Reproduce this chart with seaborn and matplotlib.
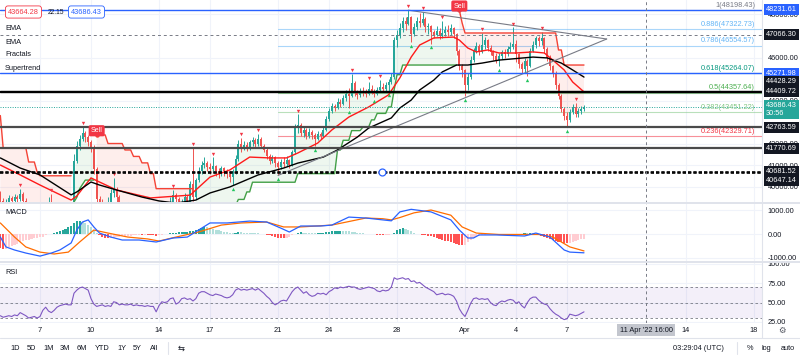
import numpy as np
import pandas as pd
import matplotlib
matplotlib.use("Agg")
import matplotlib.pyplot as plt
import matplotlib.dates as mdates
from matplotlib.lines import Line2D
from matplotlib.transforms import blended_transform_factory, offset_copy
import seaborn as sns

sns.set_theme(style="white")
plt.rcParams["font.family"] = ["Liberation Sans", "DejaVu Sans"]

# ---------------- data (4h candles, BTCUSD) ----------------
first_candle = "2022-03-04 16:00"
first_open = 39700
close = [
    39350, 39150,
    39300, 39450, 39350, 39500, 39400, 39650,
    39350, 39200, 39050, 38850, 38550, 38350,
    38150, 38500, 38900, 39200, 38500, 37700,
    38000, 38300, 38700, 38600, 38500, 38750,
    41200, 41900, 42200, 42500, 42300, 42050,
    41850, 40800, 39400, 39250, 39150, 38900,
    39300, 39700, 39900, 39500, 39100, 38900,
    39000, 39150, 38900, 39050, 38950, 38850,
    38900, 38800, 38650, 38400, 38200, 37800,
    38200, 38800, 38700, 39000, 39300, 39600,
    39400, 39050, 39200, 39500, 39300, 40100,
    39500, 40300, 40700, 41000, 41100, 40900,
    40800, 40950, 40700, 40600, 40850, 40700,
    40600, 40450, 40700, 41300, 42000, 41800,
    41950, 41800, 42050, 42150, 42000, 42200,
    41900, 41700, 41400, 41200, 41350, 41100,
    40900, 41150, 41050, 41250, 41000, 41600,
    42700, 42850, 42500, 42650, 42350, 42550,
    42400, 42200, 42450, 42350, 42650, 43150,
    43500, 43750, 43650, 43950, 43850, 44100,
    44300, 44200, 44800, 44400, 44250, 44450,
    44400, 44300, 44550, 44450, 44300, 44500,
    44650, 44550, 44700, 44850, 45100, 46800,
    47050, 47350, 47700, 47550, 47900, 47100,
    47400, 47700, 47600, 47800, 47400, 47450,
    47200, 47050, 47250, 47000, 47150, 47300,
    47200, 47350, 47100, 46300, 45600, 45400,
    44700, 45100, 45900, 46300, 46550, 46250,
    46600, 46800, 46450, 46250, 46050, 45900,
    46050, 46250, 46150, 46400, 46500, 46650,
    46150, 45700, 45450, 45850, 45600, 46300,
    46600, 46900, 46750, 46900, 46400, 46000,
    45600, 45300, 44700, 44200, 43600, 43300,
    43100, 43450, 43700, 43350, 43500, 43600,
    43686.43,
]
high = [
    39800, 39450,
    39400, 39600, 39550, 39650, 39600, 39900,
    39750, 39450, 39300, 39150, 38950, 38650,
    38500, 38700, 39150, 39500, 39650, 38600,
    38200, 38500, 38900, 39000, 38800, 39000,
    41500, 42100, 42400, 42770, 42600, 42400,
    42150, 41950, 40900, 39550, 39400, 39300,
    39500, 39900, 40400, 40000, 39600, 39300,
    39250, 39300, 39200, 39200, 39100, 39050,
    39100, 39000, 38900, 38750, 38500, 38300,
    38400, 39000, 39100, 39300, 39500, 39850,
    39700, 39500, 39400, 39700, 39600, 40250,
    41800, 40400, 40900, 41200, 41350, 41200,
    41100, 41350, 41000, 40850, 40950, 40900,
    40800, 40700, 40800, 41450, 42150, 42250,
    42100, 42050, 42150, 42300, 42250, 42450,
    42300, 42000, 41800, 41500, 41450, 41400,
    41200, 41300, 41350, 41400, 41300, 41700,
    42900, 43350, 42950, 42800, 42700, 42700,
    42650, 42500, 42600, 42550, 42800, 43300,
    43650, 43900, 43850, 44100, 44050, 44250,
    44500, 44600, 45250, 44900, 44500, 44600,
    44650, 44550, 44850, 44700, 44550, 44650,
    44950, 44800, 44850, 45000, 45300, 46950,
    47300, 47600, 47900, 47900, 48200, 47950,
    47600, 47900, 48050, 48100, 47900, 47600,
    47500, 47300, 47450, 47350, 47700, 47450,
    47500, 47550, 47400, 47150, 46400, 45700,
    45450, 45300, 46050, 46450, 46700, 46650,
    47150, 46950, 46850, 46600, 46350, 46200,
    46200, 46350, 46400, 46550, 46700, 47400,
    46800, 46200, 45800, 46000, 45950, 46450,
    46750, 47000, 47000, 47200, 46950, 46500,
    46100, 45650, 45350, 44800, 44300, 43700,
    43450, 43600, 43850, 43900, 43650, 43750,
    43800,
]
low = [
    39150, 38950,
    39050, 39250, 39200, 39300, 39300, 39350,
    39250, 39050, 38900, 38700, 38400, 38200,
    37900, 38050, 38400, 38500, 38300, 37200,
    37500, 37900, 38200, 38400, 38300, 38400,
    38700, 41100, 41700, 42100, 42050, 41900,
    41600, 40600, 39200, 38900, 38700, 38600,
    38800, 39100, 39500, 39300, 38900, 38600,
    38700, 38900, 38800, 38800, 38750, 38700,
    38700, 38600, 38400, 38200, 37900, 37600,
    37700, 38100, 38500, 38600, 38900, 39200,
    39200, 38900, 38850, 39100, 39150, 39300,
    39350, 39400, 40200, 40600, 40850, 40700,
    40600, 40700, 40500, 40400, 40500, 40500,
    40400, 40200, 40050, 40600, 41200, 41600,
    41700, 41650, 41700, 41900, 41850, 41900,
    41800, 41600, 41300, 41050, 41100, 40900,
    40550, 40800, 40900, 40950, 40850, 40950,
    41500, 42500, 42350, 42300, 42200, 42250,
    42200, 41900, 42150, 42200, 42300, 42600,
    43050, 43400, 43500, 43600, 43700, 43800,
    44000, 43650, 44150, 44200, 44050, 44150,
    44200, 44150, 44250, 44300, 44150, 44250,
    44400, 44400, 44450, 44450, 44750, 45000,
    46500, 46900, 47200, 47300, 47500, 46700,
    47000, 47300, 47400, 47500, 47200, 47100,
    46650, 46900, 47000, 46850, 46900, 47000,
    47000, 47050, 46900, 46100, 45400, 45100,
    44200, 44500, 45000, 45800, 46200, 46100,
    46200, 46400, 46300, 46100, 45900, 45750,
    45600, 45950, 46000, 46050, 46250, 46400,
    45800, 45500, 45300, 45300, 45150, 45550,
    46250, 46450, 46550, 46600, 46200, 45850,
    45400, 45100, 44550, 44050, 43450, 43100,
    42750, 43000, 43350, 43250, 43250, 43350,
    43500,
]
rsi = [
    33, 31,
    32, 33, 32, 34, 33, 37,
    35, 33, 30, 31, 32, 30,
    32, 40, 44, 39, 37, 40,
    44, 46, 47, 48, 47, 47,
    62, 66, 69, 70, 68, 66,
    55, 48, 45, 46, 47, 45,
    46, 45, 51, 50, 47, 48,
    47, 47, 48, 46, 47, 46,
    46, 45, 46, 45, 45, 38,
    46, 51, 50, 51, 55, 56,
    48, 50, 55, 56, 54, 55,
    52, 55, 62, 64, 64, 62,
    60, 59, 61, 60, 59, 57,
    56, 57, 60, 66, 68, 66,
    67, 66, 67, 68, 66, 68,
    65, 62, 58, 55, 50, 47,
    49, 52, 53, 52, 58, 64,
    68, 70, 66, 62, 64, 60,
    58, 59, 62, 61, 62, 60,
    64, 66, 69, 68, 70, 69,
    70, 71, 70, 70, 68, 67,
    68, 69, 70, 69, 68, 65,
    64, 66, 65, 66, 70, 82,
    80, 81, 82, 80, 81, 77,
    78, 75, 76, 73, 70, 68,
    66, 64, 60, 61, 62, 60,
    61, 60, 58, 52, 42, 36,
    32, 40, 49, 55, 56, 54,
    55, 54, 55, 50, 47, 46,
    50, 52, 51, 53, 54, 53,
    49, 51, 46, 43, 50, 55,
    57, 57, 53, 50, 48, 47,
    42, 38, 35, 33, 30, 28,
    29, 35, 34, 33, 34, 36,
    38,
]
macd_hist = [
    -600, -640,
    -620, -560, -520, -480, -420, -360,
    -300, -260, -240, -210, -180, -160,
    -140, -110, -60, -20, 20, 40,
    90, 130, 180, 230, 290, 350,
    470, 540, 560, 520, 450, 380,
    280, 150, 40, -60, -120, -160,
    -170, -160, -150, -130, -110, -100,
    -90, -80, -70, -60, -55, -50,
    -50, -45, -50, -55, -60, -65,
    -50, -30, -10, 10, 30, 50,
    60, 70, 80, 90, 100, 110,
    120, 150, 220, 270, 300, 290,
    260, 220, 190, 160, 130, 100,
    80, 60, 50, 60, 80, 70,
    60, 50, 45, 40, 35, 30,
    20, 0, -30, -60, -90, -120,
    -150, -170, -170, -150, -120, -60,
    20, 60, 70, 60, 50, 40,
    30, 25, 30, 40, 50, 70,
    90, 110, 120, 130, 135, 130,
    120, 110, 100, 80, 60, 45,
    30, 20, 10, 0, -15, -30,
    -40, -45, -40, -30, -10, 60,
    150, 220, 250, 230, 180, 120,
    60, 20, -20, -40, -60, -70,
    -80, -120, -160, -200, -240, -280,
    -310, -340, -380, -420, -450, -470,
    -460, -330, -250, -180, -120, -80,
    -50, -30, -20, -15, -10, -10,
    -5, 0, 5, 5, 10, 5,
    10, 15, 20, 25, 25, 30,
    30, 20, -30, -70, -120, -160,
    -200, -240, -280, -320, -350, -380,
    -400, -380, -330, -290, -260, -230,
    -200,
]
# indicator lines read at knots (candle index, value)
ema_fast_idx = [0, 7, 14, 25, 27, 30, 32, 35, 41, 53, 67, 74, 81, 88, 95, 101, 105, 112, 117, 123,
                130, 137, 141, 145, 148, 153, 160, 162, 165, 168, 172, 176, 182, 188, 192, 195, 199, 202, 206]
ema_fast_val = [41000, 40540, 40070, 39370, 39560, 40070, 40400, 40210, 39840, 39470, 39600, 40440, 40770,
                41370, 41330, 41330, 41560, 42020, 42630, 43230, 43700, 44260, 45050, 46020, 46580, 46910,
                46950, 46810, 46440, 46260, 46350, 46210, 46210, 46260, 46210, 45880, 45420, 44860, 44400]
ema_slow_idx = [0, 7, 14, 25, 27, 32, 35, 41, 50, 56, 62, 69, 74, 81, 91, 100, 105, 114, 119, 126,
                130, 138, 141, 145, 148, 153, 156, 161, 165, 170, 176, 188, 193, 198, 202, 206]
ema_slow_val = [41330, 40860, 40540, 39610, 39750, 40210, 40070, 39840, 39510, 39330, 39230, 39370, 39700,
                39980, 40540, 40860, 41090, 41370, 41700, 42300, 42720, 43190, 43650, 44020, 44490, 44950,
                45330, 45650, 45650, 45740, 45880, 46020, 45980, 45740, 45420, 45090]
macd_idx = [0, 2, 5, 9, 14, 18, 21, 25, 27, 29, 31, 33, 35, 39, 43, 49, 55, 61, 66, 70, 74, 80, 88, 94,
            99, 102, 106, 113, 117, 123, 129, 135, 138, 141, 145, 152, 159, 162, 165, 167, 169, 175, 185,
            189, 194, 199, 201, 206]
macd_val = [-128, -550, -680, -810, -940, -810, -680, -380, 170, 510, 600, 300, 40, -130, -255, -255, -340,
            -170, -130, 170, 470, 470, 550, 510, 250, 85, 340, 340, 380, 720, 680, 600, 560, 940, 1050, 940,
            600, 170, -170, -170, -40, -40, -85, 40, -130, -680, -770, -800]
signal_idx = [0, 5, 9, 14, 19, 24, 28, 33, 38, 45, 52, 56, 62, 70, 78, 85, 94, 100, 106, 117, 129, 135,
              138, 141, 146, 152, 159, 163, 168, 176, 190, 195, 201, 206]
signal_val = [470, -128, -550, -770, -850, -770, -340, 170, 40, -130, -210, -300, -130, 85, 380, 470, 510,
              300, 300, 380, 680, 650, 600, 700, 900, 1020, 800, 300, 40, -20, -20, -130, -550, -720]
# supertrend as steps: first candle index, level, direction (+1 up / -1 down)
st_start = [0, 1, 10, 13, 14, 26, 27, 28, 29, 30, 34, 38, 44, 47, 50, 53, 55, 69, 74, 80, 84, 87, 89, 105,
            119, 121, 124, 128, 131, 133, 137, 139, 140, 142, 162, 163, 164, 197, 199]
st_level = [43300, 41800, 41140, 40670, 40500, 39280, 39500, 39900, 40100, 40300, 42400, 42000, 41700, 41400,
            41100, 40600, 39900, 38700, 38900, 39100, 39400, 39750, 40200, 40600, 41700, 42150, 42600, 42770,
            43100, 43400, 43700, 44500, 45200, 45650, 48200, 47600, 47140, 46350, 45650]
st_dir = [-1, -1, -1, -1, -1, 1, 1, 1, 1, 1, -1, -1, -1, -1, -1, -1, -1, 1, 1, 1, 1, 1, 1, 1, 1, 1, 1, 1,
          1, 1, 1, 1, 1, 1, -1, -1, -1, -1, -1]
frac_up = [7, 18, 29, 40, 61, 68, 75, 85, 91, 105, 124, 130, 134, 144, 149, 156, 170, 181, 191, 203]
frac_down = [82, 98, 111, 123, 132, 137, 145, 152, 164, 176, 186, 200]

# drawings
hline_blue = [48231.61, 45271.98]
hline_black = [44428.29, 44409.72]
hline_gray = [42763.59, 41770.69]
hline_dashed = [40681.52, 40647.14]
crosshair_price = 47066.30
crosshair_time = "2022-04-11 16:00"
last_price = 43686.43
countdown = "30:56"
bid, spread, ask = "43664.28", "22.15", "43686.43"
fib_ratio = ["1", "0.886", "0.786", "0.618", "0.5", "0.382", "0.236"]
fib_price = [48198.43, 47322.73, 46554.57, 45264.07, 44357.64, 43451.22, 42329.71]
fib_start = "2022-03-21 00:00"
trend_down = (["2022-03-28 16:00", "2022-04-09 08:00"], [48200, 46860])
trend_up = (["2022-03-21 00:00", "2022-04-09 08:00"], [40516, 46860])
handle_time = "2022-03-27 03:00"
day_ticks = ["2022-03-07", "2022-03-10", "2022-03-14", "2022-03-17", "2022-03-21", "2022-03-24",
             "2022-03-28", "2022-04-01", "2022-04-04", "2022-04-07", "2022-04-14", "2022-04-18"]
day_labels = ["7", "10", "14", "17", "21", "24", "28", "Apr", "4", "7", "14", "18"]
price_ticks = [40000, 41000, 42000, 44000, 46000, 48000]

# ---------------- figure ----------------
W, H = 800, 356
fig = plt.figure(figsize=(W / 100, H / 100), dpi=100, facecolor="white")


def box(x0, y0, x1, y1):
    return [x0 / W, 1 - y1 / H, (x1 - x0) / W, (y1 - y0) / H]


def fx(x):
    return x / W


def fy(y):
    return 1 - y / H


ax = fig.add_axes(box(0, 0, 762, 203))
axm = fig.add_axes(box(0, 203, 762, 262), sharex=ax)
axr = fig.add_axes(box(0, 262, 762, 323), sharex=ax)

TXT = "#131722"
FS = 5.3
n = len(close)
times = pd.date_range(first_candle, periods=n, freq="4h")
X = mdates.date2num(times.to_pydatetime())
c = np.array(close, float)
hi = np.array(high, float)
lo = np.array(low, float)
o = np.r_[first_open, c[:-1]]
dnum = lambda s: mdates.date2num(pd.Timestamp(s).to_pydatetime())
t7 = dnum("2022-03-07")
for a in (ax, axm, axr):
    a.set_facecolor("white")
    for s in a.spines.values():
        s.set_visible(False)
    a.set_xticks([dnum(d) for d in day_ticks])
    a.grid(True, color="#f0f3fa", lw=0.8)
    a.tick_params(axis="x", labelbottom=False, length=0)
    a.yaxis.tick_right()
    a.tick_params(axis="y", length=0, pad=4.2, labelsize=FS, labelcolor=TXT)
ax.set_xlim(t7 - 40 / 17, t7 + 722 / 17)
ax.set_ylim(39234, 48674)
ax.set_yticks(price_ticks)
ax.yaxis.set_major_formatter(plt.FuncFormatter(lambda v, p: f"{v:.2f}"))
axm.set_ylim(-1191, 1319)
axm.set_yticks([-1000, 0, 1000])
axm.yaxis.set_major_formatter(plt.FuncFormatter(lambda v, p: f"{v:.2f}"))
axr.set_ylim(23.6, 102.3)
axr.set_yticks([25, 50, 75, 100])
axr.yaxis.set_major_formatter(plt.FuncFormatter(lambda v, p: f"{v:.2f}"))

# ---- fib retracement
fib_colors = ["#787b86", "#64b5f6", "#64b5f6", "#089981", "#4caf50", "#81c784", "#f23645"]
tr_ax = blended_transform_factory(ax.transAxes, ax.transData)
for r, p, col in zip(fib_ratio, fib_price, fib_colors):
    ax.plot([dnum(fib_start), ax.get_xlim()[1]], [p, p], color=col, lw=0.8, alpha=0.55, zorder=1)
    ax.text(755 / 762, p, f"{r}({p:.2f})", transform=offset_copy(tr_ax, fig=fig, y=1.0, units="points"),
            ha="right", va="bottom", fontsize=FS, color=col, zorder=9)

# ---- supertrend
st = np.full(n, np.nan)
sd = np.zeros(n)
bounds = st_start + [n]
for k in range(len(st_start)):
    st[bounds[k]:bounds[k + 1]] = st_level[k]
    sd[bounds[k]:bounds[k + 1]] = st_dir[k]
mid = (o + c) / 2
ax.fill_between(X, st, mid, where=sd > 0, color="#4caf50", alpha=0.09, lw=0, zorder=1.5)
ax.fill_between(X, st, mid, where=sd < 0, color="#f44336", alpha=0.09, lw=0, zorder=1.5)
ax.plot(X, np.where(sd > 0, st, np.nan), color="#43a047", lw=1.0, zorder=5)
ax.plot(X, np.where(sd < 0, st, np.nan), color="#f44336", lw=1.0, zorder=5)
flips = [i for i in range(1, n) if sd[i] < 0 and sd[i - 1] > 0]
for i in flips:
    ax.plot(X[i], st[i], "o", ms=2.2, color="#f44336", zorder=6)
    ax.annotate("Sell", xy=(X[i], st[i]), xytext=(0, 3.0), textcoords="offset points", ha="center",
                va="center", fontsize=5.0, color="white", zorder=11, annotation_clip=False,
                bbox=dict(boxstyle="round,pad=0.3,rounding_size=0.25", fc="#f23645", ec="none"))

# ---- candles
up = c >= o
col = np.where(up, "#26a69a", "#ef5350")
ax.vlines(X, np.minimum(lo, np.minimum(o, c)), np.maximum(hi, np.maximum(o, c)), colors=col, lw=0.7, zorder=3)
ax.bar(X, np.maximum(np.abs(c - o), 25), bottom=np.minimum(o, c), width=0.11, color=col, lw=0, zorder=4)

# ---- EMAs
sns.lineplot(x=X[ema_fast_idx], y=ema_fast_val, ax=ax, color="#ff1a1a", lw=1.0, zorder=6,
             estimator=None, sort=False)
sns.lineplot(x=X[ema_slow_idx], y=ema_slow_val, ax=ax, color="#000000", lw=1.0, zorder=6,
             estimator=None, sort=False)

# ---- fractals
up_tr = offset_copy(ax.transData, fig=fig, y=2.8, units="points")
dn_tr = offset_copy(ax.transData, fig=fig, y=-2.8, units="points")
ax.plot(X[frac_up], hi[frac_up], "v", ms=2.4, color="#f23645", mec="none", transform=up_tr, zorder=7)
ax.plot(X[frac_down], lo[frac_down], "^", ms=2.4, color="#22c55e", mec="none", transform=dn_tr, zorder=7)

# ---- drawings
for p in hline_blue:
    ax.axhline(p, color="#2962ff", lw=1.0, zorder=7)
for p in hline_black:
    ax.axhline(p, color="#000000", lw=1.0, zorder=7)
for p in hline_gray:
    ax.axhline(p, color="#4a4a4a", lw=1.6, zorder=7)
for p in hline_dashed:
    ax.axhline(p, color="#000000", lw=1.2, ls=(0, (2, 1.2)), zorder=7)
ax.plot(dnum(handle_time), hline_dashed[0], "o", ms=5, mfc="white", mec="#2962ff", mew=0.9, zorder=8)
ax.axhline(last_price, color="#26a69a", lw=0.7, ls=(0, (1, 1.5)), zorder=7)
ax.axhline(crosshair_price, color="#787b86", lw=0.7, ls=(0, (3, 3)), zorder=7)
for tl in (trend_down, trend_up):
    ax.plot([dnum(t) for t in tl[0]], tl[1], color="#787b86", lw=0.8, zorder=6)
for a in (ax, axm, axr):
    a.axvline(dnum(crosshair_time), color="#787b86", lw=0.7, ls=(0, (3, 3)), zorder=7)

# ---- right axis price labels
def plabel(a, val, text, fc, tc="white", dy=0.0):
    a.annotate(text, xy=(1.0, val), xycoords=blended_transform_factory(a.transAxes, a.transData),
               xytext=(3.0, -dy * 0.72), textcoords="offset points", ha="left", va="center",
               fontsize=FS, color=tc, zorder=12, annotation_clip=False, linespacing=1.15,
               bbox=dict(boxstyle="square,pad=0.28", fc=fc, ec="none"))


plabel(ax, hline_blue[0], f"{hline_blue[0]:.2f}", "#2962ff")
plabel(ax, crosshair_price, f"{crosshair_price:.2f}", "#131722")
plabel(ax, hline_blue[1], f"{hline_blue[1]:.2f}", "#2962ff")
plabel(ax, hline_black[0], f"{hline_black[0]:.2f}", "#131722", dy=-10)
plabel(ax, hline_black[1], f"{hline_black[1]:.2f}", "#131722")
plabel(ax, last_price, f"{last_price:.2f}\n{countdown}", "#26a69a", dy=2)
plabel(ax, hline_gray[0], f"{hline_gray[0]:.2f}", "#131722")
plabel(ax, hline_gray[1], f"{hline_gray[1]:.2f}", "#131722")
plabel(ax, hline_dashed[0], f"{hline_dashed[0]:.2f}", "#131722")
plabel(ax, hline_dashed[1], f"{hline_dashed[1]:.2f}", "#131722", dy=8)

# ---- MACD pane
hist = np.array(macd_hist, float)
prev = np.r_[hist[0], hist[:-1]]
hcol = np.where(hist >= 0, np.where(hist > prev, "#26a69a", "#b2dfdb"),
                np.where(hist > prev, "#ffcdd2", "#ff5252"))
axm.bar(X, hist, width=0.12, color=hcol, lw=0, zorder=2)
sns.lineplot(x=X[macd_idx], y=macd_val, ax=axm, color="#2962ff", lw=0.9, zorder=4, estimator=None, sort=False)
sns.lineplot(x=X[signal_idx], y=signal_val, ax=axm, color="#ff6d00", lw=0.9, zorder=3, estimator=None, sort=False)

# ---- RSI pane
axr.axhspan(30, 70, color="#7e57c2", alpha=0.09, lw=0, zorder=1)
for lvl in (70, 50, 30):
    axr.axhline(lvl, color="#787b86", lw=0.6, ls=(0, (3, 3)), zorder=2)
sns.lineplot(x=X, y=rsi, ax=axr, color="#7e57c2", lw=0.8, zorder=4, estimator=None, sort=False)
for a in (ax, axm, axr):
    a.set_xlabel("")
    a.set_ylabel("")

# ---- time axis labels
tr_time = blended_transform_factory(axr.transData, fig.transFigure)
for d, lab in zip(day_ticks, day_labels):
    axr.text(dnum(d), fy(330), lab, transform=tr_time, ha="center", va="center", fontsize=FS, color=TXT)
axr.text(dnum(crosshair_time), fy(330), "11 Apr '22 16:00", transform=tr_time, ha="center", va="center",
         fontsize=FS, color=TXT, zorder=10, bbox=dict(boxstyle="square,pad=0.35", fc="#c3c6ce", ec="none"))

# ---- pane separators & borders
for yy in (203, 262):
    fig.add_artist(Line2D([0, 1], [fy(yy), fy(yy)], color="#e0e3eb", lw=1.4))
fig.add_artist(Line2D([fx(762), fx(762)], [fy(338), 1], color="#e0e3eb", lw=0.8))
fig.add_artist(Line2D([0, 1], [fy(338), fy(338)], color="#e0e3eb", lw=0.8))

# ---- legend / header texts
fig.text(fx(8), fy(12), bid, fontsize=FS, color="#f23645", va="center",
         bbox=dict(boxstyle="round,pad=0.35,rounding_size=0.35", fc="white", ec="#f23645", lw=0.6))
fig.text(fx(48), fy(12), spread, fontsize=4.8, color=TXT, va="center")
fig.text(fx(71), fy(12), ask, fontsize=FS, color="#2962ff", va="center",
         bbox=dict(boxstyle="round,pad=0.35,rounding_size=0.35", fc="white", ec="#2962ff", lw=0.6))
for lab, yy in zip(["EMA", "EMA", "Fractals", "Supertrend"], [28, 42, 55, 68]):
    fig.text(fx(5), fy(yy), lab, fontsize=FS, color=TXT, va="center")
fig.text(fx(5), fy(212), "MACD", fontsize=FS, color=TXT, va="center")
fig.text(fx(5), fy(272), "RSI", fontsize=FS, color=TXT, va="center")

# ---- bottom toolbar
for lab, xx in zip(["1D", "5D", "1M", "3M", "6M", "YTD", "1Y", "5Y", "All"],
                   [10, 27, 43, 60, 77, 95, 117, 133, 150]):
    fig.text(fx(xx), fy(348), lab, fontsize=FS, color=TXT, va="center")
fig.add_artist(Line2D([fx(168), fx(168)], [fy(342), fy(354)], color="#e0e3eb", lw=0.8))
fig.text(fx(178), fy(348), "⇆", fontsize=6, color=TXT, va="center", family="DejaVu Sans")
fig.text(fx(673), fy(348), "03:29:04 (UTC)", fontsize=FS, color=TXT, va="center")
fig.add_artist(Line2D([fx(737), fx(737)], [fy(342), fy(354)], color="#e0e3eb", lw=0.8))
fig.text(fx(747), fy(348), "%", fontsize=FS, color=TXT, va="center")
fig.text(fx(762), fy(348), "log", fontsize=FS, color=TXT, va="center")
fig.text(fx(781), fy(348), "auto", fontsize=FS, color=TXT, va="center")
fig.text(fx(782), fy(330), "⚙", fontsize=6, color="#50535e", va="center", ha="center", family="DejaVu Sans")

fig.savefig("out.png", dpi=100, facecolor="white")
